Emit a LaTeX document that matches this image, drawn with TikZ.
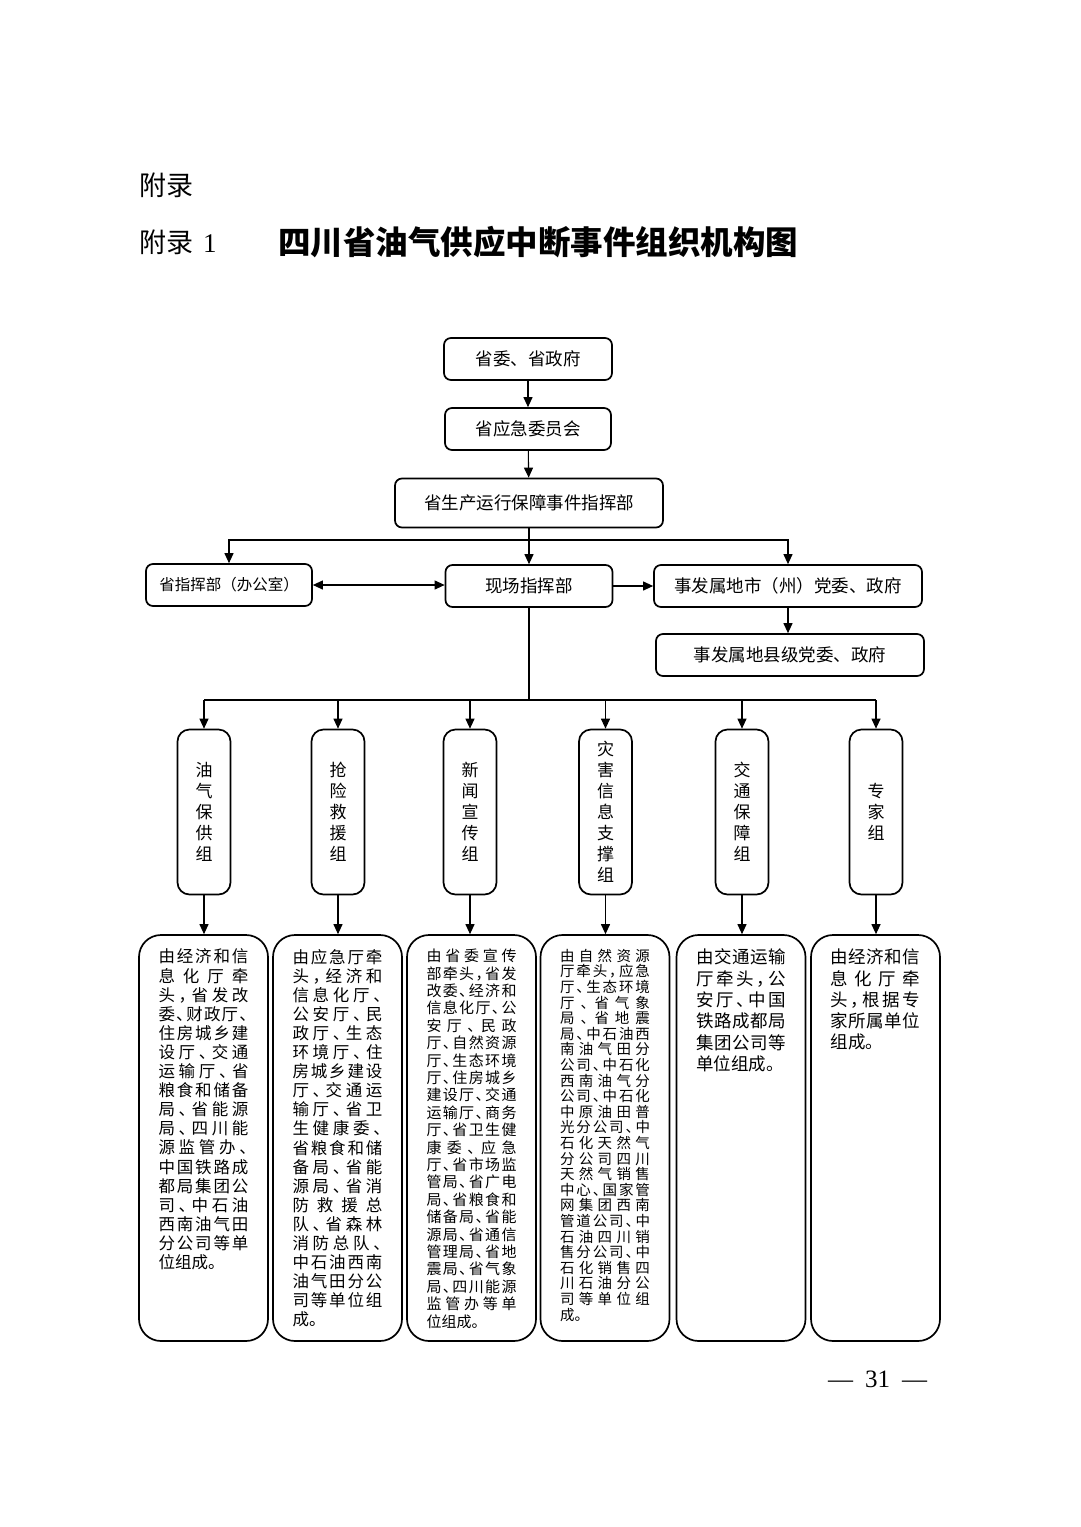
\documentclass[tikz,border=0pt]{standalone}
\usepackage{fontspec}
\setmainfont{Liberation Serif}
\newfontfamily\cjk{Noto Sans CJK SC}
\usetikzlibrary{arrows.meta}

\newcommand*\descwidth{90pt}
\newcommand\jglue{\hskip 0pt plus 1fil minus 1pt}
\ExplSyntaxOn
\tl_const:Nn \c_jpunct_tl {、，。}
\cs_new:Npn \jchar #1
  { \tl_if_in:NnTF \c_jpunct_tl {#1} { \makebox[.55em][l]{#1} } {#1} }
\NewDocumentCommand \jrow { m }
  { \hbox_to_wd:nn { \linewidth } { \tl_map_inline:nn {#1} { \jchar {##1} \jglue } \unskip } }
\NewDocumentCommand \jlast { m }
  { \hbox_to_wd:nn { \linewidth } { \tl_map_inline:nn {#1} { \jchar {##1} } \hfil } }
\ExplSyntaxOff
\newcommand\duties[3]{\parbox[c][386pt][t]{\descwidth}{\cjk\fontsize{#1}{#2}\selectfont\vskip4pt #3}}

\tikzset{
  office/.style 2 args={
    draw,
    line width=1.7pt,
    rounded corners=7pt,
    minimum width=#1,
    minimum height=#2,
    inner sep=0pt,
    font=\cjk\fontsize{17.5}{20}\selectfont
  },
  team/.style={
    draw,
    line width=1.7pt,
    rounded corners=12pt,
    minimum width=53pt,
    minimum height=165pt,
    inner sep=0pt,
    align=center,
    font=\cjk\fontsize{17}{21}\selectfont
  },
  duty/.style={
    draw,
    line width=1.7pt,
    rounded corners=22pt,
    inner xsep=19.5pt,
    inner ysep=10pt
  },
  arr/.style={line width=1.1pt, -{Triangle[length=10pt,width=9pt]}},
  arrs/.style={line width=1.1pt, {Triangle[length=10pt,width=9pt]}-{Triangle[length=10pt,width=9pt]}}
}

\begin{document}
\begin{tikzpicture}[y=-1pt,x=1pt]
    \useasboundingbox[fill=white] (0,0) rectangle (1080,1527);

    % First the headings of the page.
    \node[anchor=west, inner sep=0pt, font=\cjk\fontsize{27}{27}\selectfont] (app) at (139,185) {附录};
    \node[anchor=west, inner sep=0pt, font=\fontsize{27}{27}\selectfont] (appone) at (139,242) {{\cjk 附录}\hspace{10pt}1};
    \node[anchor=west, inner sep=0pt, font=\cjk\bfseries\fontsize{32.5}{33}\selectfont] (title) at (278,242) {四川省油气供应中断事件组织机构图};

    % The command chain at the top.
    \node[office={168pt}{42pt}] (gov) at (528,359) {省委、省政府};
    \node[office={166pt}{42pt}] (emc) at (528,429) {省应急委员会};
    \node[office={268pt}{49pt}] (hq) at (529,503) {省生产运行保障事件指挥部};
    \node[office={166pt}{42pt}, font=\cjk\fontsize{15.5}{18}\selectfont] (prov) at (229,585) {省指挥部（办公室）};
    \node[office={167pt}{42pt}] (site) at (529,586) {现场指挥部};
    \node[office={268pt}{42pt}] (city) at (788,586) {事发属地市（州）党委、政府};
    \node[office={268pt}{42pt}] (county) at (790,655) {事发属地县级党委、政府};

    \draw[arr] (gov) -- (emc);
    \draw[arr] (emc) -- (hq);
    \draw[arr] (hq) -- (site);
    \coordinate (fork) at (529,540);
    \draw[arr] (fork) -| (prov.north);
    \draw[arr] (fork) -| (city.north);
    \draw[arrs] (prov.east) -- (prov.east -| site.west);
    \draw[arr] (site.east) -- (site.east -| city.west);
    \draw[arr] (city.south) -- (city.south |- county.north);

    % The six working groups, written top to bottom.
    \foreach \i/\x/\name in {1/204/{油\\气\\保\\供\\组},2/338/{抢\\险\\救\\援\\组},3/470/{新\\闻\\宣\\传\\组},
        4/605.5/{灾\\害\\信\\息\\支\\撑\\组},5/742/{交\\通\\保\\障\\组},6/876/{专\\家\\组}}
        \node[team] (t\i) at (\x,812) {\name};

    % What each group is made of.
    \node[duty] (d1) at (203.5,1138) {\duties{16.5}{19.1}{%
        \jrow{由经济和信}\jrow{息化厅牵}\jrow{头，省发改}\jrow{委、财政厅、}\jrow{住房城乡建}%
        \jrow{设厅、交通}\jrow{运输厅、省}\jrow{粮食和储备}\jrow{局、省能源}\jrow{局、四川能}%
        \jrow{源监管办、}\jrow{中国铁路成}\jrow{都局集团公}\jrow{司、中石油}\jrow{西南油气田}%
        \jrow{分公司等单}\jlast{位组成。}}};
    \node[duty] (d2) at (337.5,1138) {\duties{16.5}{19.1}{%
        \jrow{由应急厅牵}\jrow{头，经济和}\jrow{信息化厅、}\jrow{公安厅、民}\jrow{政厅、生态}%
        \jrow{环境厅、住}\jrow{房城乡建设}\jrow{厅、交通运}\jrow{输厅、省卫}\jrow{生健康委、}%
        \jrow{省粮食和储}\jrow{备局、省能}\jrow{源局、省消}\jrow{防救援总}\jrow{队、省森林}%
        \jrow{消防总队、}\jrow{中石油西南}\jrow{油气田分公}\jrow{司等单位组}\jlast{成。}}};
    \node[duty] (d3) at (471.5,1138) {\duties{15}{17.4}{%
        \jrow{由省委宣传}\jrow{部牵头，省发}\jrow{改委、经济和}\jrow{信息化厅、公}\jrow{安厅、民政}%
        \jrow{厅、自然资源}\jrow{厅、生态环境}\jrow{厅、住房城乡}\jrow{建设厅、交通}\jrow{运输厅、商务}%
        \jrow{厅、省卫生健}\jrow{康委、应急}\jrow{厅、省市场监}\jrow{管局、省广电}\jrow{局、省粮食和}%
        \jrow{储备局、省能}\jrow{源局、省通信}\jrow{管理局、省地}\jrow{震局、省气象}\jrow{局、四川能源}%
        \jrow{监管办等单}\jlast{位组成。}}};
    \node[duty] (d4) at (605,1138) {\duties{14.5}{15.6}{%
        \jrow{由自然资源}\jrow{厅牵头，应急}\jrow{厅、生态环境}\jrow{厅、省气象}\jrow{局、省地震}%
        \jrow{局、中石油西}\jrow{南油气田分}\jrow{公司、中石化}\jrow{西南油气分}\jrow{公司、中石化}%
        \jrow{中原油田普}\jrow{光分公司、中}\jrow{石化天然气}\jrow{分公司四川}\jrow{天然气销售}%
        \jrow{中心、国家管}\jrow{网集团西南}\jrow{管道公司、中}\jrow{石油四川销}\jrow{售分公司、中}%
        \jrow{石化销售四}\jrow{川石油分公}\jrow{司等单位组}\jlast{成。}}};
    \node[duty] (d5) at (741,1138) {\duties{17.5}{21.3}{%
        \jrow{由交通运输}\jrow{厅牵头，公}\jrow{安厅、中国}\jrow{铁路成都局}\jrow{集团公司等}%
        \jlast{单位组成。}}};
    \node[duty] (d6) at (875.5,1138) {\duties{17.5}{21.3}{%
        \jrow{由经济和信}\jrow{息化厅牵}\jrow{头，根据专}\jrow{家所属单位}\jlast{组成。}}};

    % Connect the field command to the groups and the groups to their members.
    \coordinate (split) at (529,700);
    \draw[line width=1.1pt] (site) -- (split);
    \draw[line width=1.1pt] (t1.north |- split) -- (t6.north |- split);
    \foreach \i in {1,...,6} {
        \draw[arr] (t\i.north |- split) -- (t\i.north);
        \draw[arr] (t\i.south) -- (t\i.south |- d\i.north);
    }

    % Page number.
    \node[inner sep=0pt, font=\fontsize{25}{25}\selectfont] (page) at (877.5,1379) {—\hspace{12pt}31\hspace{12pt}—};
\end{tikzpicture}
\end{document}
